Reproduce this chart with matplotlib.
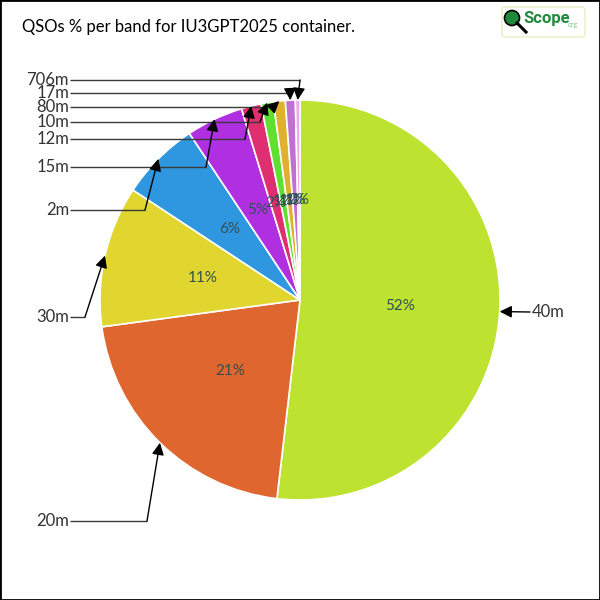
import matplotlib
matplotlib.use("Agg")
import matplotlib.pyplot as plt
import numpy as np
from matplotlib.patches import Rectangle, FancyBboxPatch, Circle

# ---- data ----
bands = ["40m", "20m", "30m", "2m", "15m", "12m", "10m", "80m", "17m", "706m"]
percent = [51.8, 21.0, 11.4, 6.4, 4.6, 1.6, 1.0, 0.95, 0.8, 0.37]
colors = ["#bde22f", "#e0662f", "#e0d62f", "#2f97e0", "#b02fe0",
          "#e02f70", "#5fe02f", "#e0b02f", "#c070d0", "#f0a8e4"]
title = "QSOs % per band for IU3GPT2025 container."

# label layout (pixel positions): text y, elbow x, side
label_layout = {
    "40m": (312, 530, "right"),
    "20m": (521, 147, "left"),
    "30m": (317, 85, "left"),
    "2m": (210, 145, "left"),
    "15m": (167, 206, "left"),
    "12m": (139, 245, "left"),
    "10m": (122, 260, "left"),
    "80m": (107, 273, "left"),
    "17m": (93, 290, "left"),
    "706m": (80, 300, "left"),
}

plt.rcParams['font.family'] = ['Lato', 'DejaVu Sans']

fig = plt.figure(figsize=(6, 6), dpi=100)
ax = fig.add_axes([0, 0, 1, 1])
ax.axis("off")

def px(x, y):
    return ((x - 300) / 200.0, (300 - y) / 200.0)

wedges, texts, autotexts = ax.pie(
    percent, colors=colors, startangle=90, counterclock=False,
    radius=1.0, center=(0, 0), autopct=lambda p: f"{p:.0f}%",
    pctdistance=0.5, labeldistance=None,
    wedgeprops=dict(edgecolor="white", linewidth=1.2),
    textprops=dict(color="#2f5055", fontsize=11))
ax.set_xlim(-1.5, 1.5)
ax.set_ylim(-1.5, 1.5)
ax.set_aspect("equal")

for w, name in zip(wedges, bands):
    mid = np.deg2rad((w.theta1 + w.theta2) / 2.0)
    tip = (np.cos(mid), np.sin(mid))
    ty, ex, side = label_layout[name]
    if side == "right":
        start = px(530, ty)
        elbow = px(ex, ty)
        ax.text(*px(532, ty), name, ha="left", va="center",
                fontsize=12, color="#333333")
    else:
        start = px(70, ty)
        elbow = px(ex, ty)
        ax.text(*px(69, ty), name, ha="right", va="center",
                fontsize=12, color="#333333")
    ax.plot([start[0], elbow[0]], [start[1], elbow[1]],
            color="#3a3a3a", lw=1.0, solid_capstyle="butt")
    ax.annotate("", xy=tip, xytext=elbow,
                arrowprops=dict(arrowstyle="-|>", color="black",
                                lw=1.0, mutation_scale=18,
                                shrinkA=0, shrinkB=0))

# title
fig.text(22 / 600, 1 - 27 / 600, title, ha="left", va="center",
         fontsize=12, color="black")

# logo (approximation)
logo = FancyBboxPatch((502 / 600, 1 - 37 / 600), 83 / 600, 30 / 600,
                      boxstyle="round,pad=0,rounding_size=0.006",
                      transform=fig.transFigure, facecolor="white",
                      edgecolor="#e6efc0", lw=1.0)
fig.patches.append(logo)
fig.patches.append(Circle((512 / 600, 1 - 18 / 600), 7.5 / 600,
                          transform=fig.transFigure, facecolor="#1f8a3c",
                          edgecolor="black", lw=1.2))
fig.lines.append(matplotlib.lines.Line2D([517 / 600, 526 / 600],
                                         [1 - 23 / 600, 1 - 32 / 600],
                                         transform=fig.transFigure,
                                         color="black", lw=2.2))
fig.text(523 / 600, 1 - 19 / 600, "Scope", ha="left", va="center",
         fontsize=12, color="#1f8a3c", fontweight="bold",
         family=["Roboto", "DejaVu Sans"])
fig.text(568 / 600, 1 - 25 / 600, "org", ha="left", va="center",
         fontsize=5, color="#7cc47c")

# frame
fig.patches.append(Rectangle((0, 0), 1, 1, transform=fig.transFigure,
                             fill=False, edgecolor="black", lw=2))

fig.savefig("out.png", dpi=100)
